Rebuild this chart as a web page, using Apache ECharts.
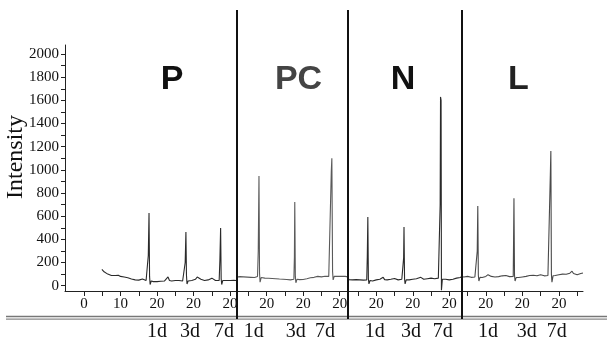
<!DOCTYPE html>
<html>
<head>
<meta charset="utf-8">
<script src="https://cdn.jsdelivr.net/npm/echarts@6/dist/echarts.min.js"></script>
<style>html,body{margin:0;padding:0;background:#fff}#c{width:607px;height:344px}</style>
</head>
<body>
<div id="c"></div>
<script>
// ---- data ----
var panelNames = ["P", "PC", "N", "L"];
var panelSeparators = [41.7, 72.25, 103.36];

var xLabelValues = [0, 10, 20, 30, 40, 50, 60, 70, 80, 90, 100, 110, 120, 130];
var xLabels = ["0", "10", "20", "20", "20", "20", "20", "20", "20", "20", "20", "20", "20", "20"];
var xTickValues = [0, 5, 10, 15, 20, 25, 30, 35, 40, 45, 50, 55, 60, 65, 70, 75, 80, 85, 90, 95, 100, 105, 110, 115, 120, 125, 130, 135];

var yLabelValues = [0, 200, 400, 600, 800, 1000, 1200, 1400, 1600, 1800, 2000];
var yTickValues = [0, 100, 200, 300, 400, 500, 600, 700, 800, 900, 1000, 1100, 1200, 1300, 1400, 1500, 1600, 1700, 1800, 1900, 2000];

var dayPositions = [20.0, 29.0, 38.3, 46.5, 58.0, 66.0, 79.6, 89.5, 98.2, 110.6, 121.2, 129.4];
var dayLabels = ["1d", "3d", "7d", "1d", "3d", "7d", "1d", "3d", "7d", "1d", "3d", "7d"];

var dataP = [[4.9,140],[5.5,120],[6,108],[6.5,100],[7,92],[7.5,88],[8,85],[8.6,88],[9,105],[9.4,90],[10,80],[10.5,82],[11,75],[11.5,70],[12,68],[12.5,62],[13,58],[13.5,55],[14,50],[14.5,52],[15,48],[15.5,50],[16,58],[16.4,48],[17,45],[17.4,50],[17.6,260],[17.8,627],[17.95,80],[18.1,10],[18.4,40],[19,35],[19.5,38],[20,35],[20.5,40],[21,38],[21.5,42],[22,40],[22.5,50],[23,75],[23.4,45],[24,40],[24.5,48],[25,45],[25.5,55],[26,45],[26.5,50],[27,40],[27.5,45],[27.7,200],[27.9,463],[28.05,90],[28.2,15],[28.5,40],[29,35],[29.5,45],[30,42],[30.5,55],[31,75],[31.5,60],[32,55],[32.5,50],[33,45],[33.5,48],[34,50],[34.5,45],[35,65],[35.4,50],[36,45],[36.5,48],[37,45],[37.2,220],[37.4,498],[37.55,60],[37.7,10],[38,45],[38.5,48],[39,45],[39.5,42],[40,45],[40.5,43],[41,46],[41.7,45]];

var dataPC = [[41.7,75],[42.2,82],[42.7,78],[43.2,85],[43.7,76],[44.2,80],[44.7,74],[45.2,78],[45.7,72],[46.2,75],[46.7,70],[47.2,75],[47.5,80],[47.7,300],[47.9,947],[48.05,110],[48.2,30],[48.5,70],[49,68],[49.5,65],[50,70],[50.5,64],[51,60],[51.5,62],[52,58],[52.5,60],[53,55],[53.5,57],[54,54],[54.5,56],[55,60],[55.5,53],[56,55],[56.5,50],[57,55],[57.45,55],[57.6,250],[57.7,722],[57.85,80],[58,25],[58.3,55],[59,52],[59.5,55],[60,53],[60.5,58],[61,60],[61.5,62],[62,68],[62.5,65],[63,72],[63.5,68],[64,80],[64.5,72],[65,76],[65.5,70],[66,82],[66.5,75],[67,80],[67.5,78],[67.7,990],[67.85,1100],[68.05,120],[68.2,50],[68.5,80],[69,78],[69.5,82],[70,76],[70.5,80],[71,77],[71.5,80],[72.25,76]];

var dataN = [[72.25,75],[72.5,52],[73,45],[73.5,50],[74,48],[74.5,52],[75,45],[75.5,50],[76,55],[76.5,48],[77,45],[77.4,50],[77.55,250],[77.7,593],[77.85,60],[78,15],[78.3,45],[79,40],[79.5,45],[80,50],[80.5,48],[81,55],[81.5,52],[81.9,72],[82.3,52],[83,50],[83.5,53],[84,55],[84.5,50],[85,62],[85.5,52],[86,50],[86.5,55],[87,55],[87.4,58],[87.5,240],[87.6,507],[87.75,60],[87.9,15],[88.2,50],[89,50],[89.5,55],[90,55],[90.5,58],[91,60],[91.5,55],[92.2,72],[92.6,58],[93,55],[93.5,58],[94,60],[94.5,62],[95,65],[95.5,60],[96,60],[96.5,65],[97,65],[97.4,70],[97.5,700],[97.6,1630],[97.75,1600],[97.85,-40],[98.1,55],[98.5,58],[99,55],[99.5,52],[100,50],[100.5,55],[101,55],[101.5,60],[102,65],[102.5,62],[103,70],[103.36,78]];

var dataL = [[103.36,78],[104,75],[104.5,85],[105,80],[105.5,88],[106,72],[106.5,78],[107,75],[107.5,80],[107.65,300],[107.8,688],[107.95,90],[108.1,40],[108.4,72],[109,70],[109.5,75],[110,80],[110.6,95],[111,82],[111.5,80],[112,78],[112.5,75],[113,80],[113.5,78],[114,82],[114.5,85],[115,80],[115.5,88],[116,80],[116.5,78],[117,75],[117.5,80],[117.6,400],[117.7,755],[117.85,90],[118,40],[118.3,70],[119,70],[119.5,75],[120,75],[120.5,78],[121,80],[121.5,85],[122,88],[122.5,85],[123,90],[123.5,88],[124,85],[124.5,90],[125,95],[125.5,88],[126,85],[126.5,90],[127,88],[127.5,92],[127.65,950],[127.8,1162],[127.95,100],[128.1,30],[128.4,85],[129,88],[129.5,90],[130,95],[130.5,92],[131,100],[131.5,95],[132,98],[132.5,105],[133,108],[133.6,125],[134,105],[134.5,100],[135,95],[135.5,100],[136,105],[136.6,110]];

// ---- chart ----
var X_MIN = -5.2, X_MAX = 136.6;
var serif = "'Liberation Serif', 'DejaVu Serif', serif";
var chart = echarts.init(document.getElementById('c'), null, {renderer: 'canvas'});

function lineSeries(name, data, color) {
  return {
    name: name, type: 'line', xAxisIndex: 0, yAxisIndex: 0,
    data: data, showSymbol: false, symbol: 'none', silent: true,
    animation: false, clip: false,
    lineStyle: {color: color, width: 1.1}
  };
}

var option = {
  animation: false,
  backgroundColor: '#fff',
  grid: [
    {left: 65, right: 24, top: 45, bottom: 53, containLabel: false},
    {left: 65, right: 24, top: 10, bottom: 25, containLabel: false}
  ],
  xAxis: [
    {
      type: 'value', gridIndex: 0, min: X_MIN, max: X_MAX,
      splitLine: {show: false},
      axisLine: {show: true, onZero: false, lineStyle: {color: '#222', width: 1}},
      axisTick: {show: true, inside: false, length: 5, customValues: xTickValues, lineStyle: {color: '#222'}},
      axisLabel: {
        customValues: xLabelValues, margin: 6,
        color: '#111', fontFamily: serif, fontSize: 15,
        formatter: function (v) { var i = xLabelValues.indexOf(v); return i >= 0 ? xLabels[i] : ''; }
      }
    },
    {
      type: 'value', gridIndex: 1, min: X_MIN, max: X_MAX, position: 'bottom',
      splitLine: {show: false},
      axisLine: {show: false, onZero: false}, axisTick: {show: false},
      axisLabel: {
        customValues: dayPositions, margin: 3,
        color: '#111', fontFamily: serif, fontSize: 20,
        formatter: function (v) {
          var best = 0, d = 1e9;
          for (var i = 0; i < dayPositions.length; i++) {
            var dd = Math.abs(dayPositions[i] - v);
            if (dd < d) { d = dd; best = i; }
          }
          return dayLabels[best];
        }
      }
    }
  ],
  yAxis: [
    {
      type: 'value', gridIndex: 0, min: -46, max: 2078,
      splitLine: {show: false},
      axisLine: {show: true, onZero: false, lineStyle: {color: '#222', width: 1}},
      axisTick: {show: true, inside: false, length: 4, customValues: yTickValues, lineStyle: {color: '#222'}},
      axisLabel: {
        customValues: yLabelValues, margin: 6, color: '#111', fontFamily: serif, fontSize: 15,
        formatter: function (v) { return String(Math.round(v)); }
      }
    },
    {
      type: 'value', gridIndex: 1, min: 0, max: 1, show: false
    }
  ],
  graphic: [
    {type: 'line', shape: {x1: 6, y1: 316.5, x2: 607, y2: 316.5}, style: {stroke: '#777', lineWidth: 1.5}, silent: true},
    {type: 'line', shape: {x1: 6, y1: 319.2, x2: 607, y2: 319.2}, style: {stroke: '#888', lineWidth: 1.3}, silent: true},
    {type: 'text', x: 16, y: 157, rotation: Math.PI / 2,
      style: {text: 'Intensity', font: "24px 'Liberation Serif', serif", fill: '#111', align: 'center', verticalAlign: 'middle'}},
    {type: 'text', x: 172, y: 80, style: {text: panelNames[0], font: "bold 34px 'Liberation Sans', Arial, sans-serif", fill: '#111', align: 'center', verticalAlign: 'middle'}},
    {type: 'text', x: 298.5, y: 80, style: {text: panelNames[1], font: "bold 34px 'Liberation Sans', Arial, sans-serif", fill: '#444', align: 'center', verticalAlign: 'middle'}},
    {type: 'text', x: 403, y: 80, style: {text: panelNames[2], font: "bold 34px 'Liberation Sans', Arial, sans-serif", fill: '#111', align: 'center', verticalAlign: 'middle'}},
    {type: 'text', x: 518.5, y: 80, style: {text: panelNames[3], font: "bold 34px 'Liberation Sans', Arial, sans-serif", fill: '#222', align: 'center', verticalAlign: 'middle'}}
  ],
  series: [
    lineSeries('P', dataP, '#2a2a2a'),
    lineSeries('PC', dataPC, '#5a5a5a'),
    lineSeries('N', dataN, '#2a2a2a'),
    lineSeries('L', dataL, '#4a4a4a'),
    {
      name: 'separators', type: 'line', xAxisIndex: 1, yAxisIndex: 1, data: [],
      silent: true, animation: false,
      markLine: {
        silent: true, symbol: ['none', 'none'], label: {show: false}, animation: false,
        lineStyle: {color: '#111', width: 2, type: 'solid'},
        emphasis: {disabled: true},
        data: panelSeparators.map(function (v) { return {xAxis: v}; })
      }
    }
  ]
};
chart.setOption(option);
</script>
</body>
</html>
